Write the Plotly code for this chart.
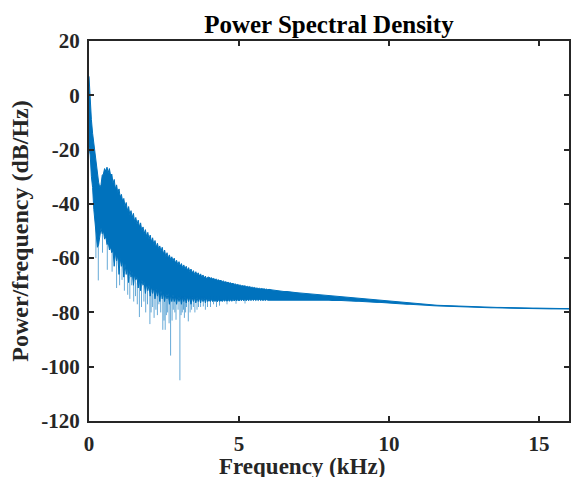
import numpy as np
import plotly.graph_objects as go

# Frequency grid (kHz): fine bins 0-5.96, coarser 6-16
freq_a = np.round(np.arange(0, 150) * 0.04, 2)
freq_b = np.round(6.0 + np.arange(0, 101) * 0.1, 2)

# Upper edge of the dense PSD band (dB/Hz)
upper_a = [
    7.0, -3.0, -9.0, -14.0, -18.0, -22.0, -26.0, -29.0, -32.0, -34.0,
    -33.0, -29.5, -29.0, -27.0, -28.0, -26.5, -28.5, -27.0, -29.5, -29.0,
    -32.5, -31.0, -34.5, -33.0, -36.0, -34.5, -37.5, -36.5, -39.0, -38.0,
    -41.0, -39.5, -42.5, -41.0, -44.0, -42.5, -45.0, -43.5, -46.5, -45.0,
    -47.5, -46.0, -48.5, -47.0, -50.0, -48.5, -51.0, -49.5, -52.0, -50.5,
    -53.0, -51.5, -54.0, -52.5, -55.0, -53.5, -56.0, -54.5, -56.5, -55.5,
    -57.5, -56.0, -58.5, -57.0, -59.5, -58.0, -60.0, -58.8, -60.5, -59.5,
    -61.0, -60.0, -61.8, -60.8, -62.5, -61.3, -63.0, -62.0, -63.5, -62.5,
    -64.0, -63.0, -64.5, -63.5, -65.0, -64.0, -65.5, -64.6, -66.0, -65.0,
    -66.2, -65.4, -66.6, -65.8, -67.0, -66.2, -67.4, -66.6, -67.7, -67.0,
    -67.0, -67.4, -67.2, -67.6, -67.5, -67.9, -67.7, -68.1, -68.0, -68.3,
    -68.2, -68.6, -68.4, -68.8, -68.7, -69.0, -68.9, -69.2, -69.1, -69.4,
    -69.3, -69.6, -69.5, -69.8, -69.7, -70.0, -69.9, -70.2, -70.1, -70.3,
    -70.2, -70.5, -70.4, -70.6, -70.5, -70.8, -70.7, -70.9, -70.8, -71.1,
    -71.0, -71.2, -71.1, -71.3, -71.2, -71.4, -71.3, -71.5, -71.4, -71.6,
]
# Lower edge of the dense PSD band (dB/Hz)
lower_a = [
    -19.0, -22.0, -30.0, -34.0, -42.0, -46.0, -52.0, -56.0, -55.0, -52.0,
    -49.0, -51.0, -50.0, -53.0, -52.0, -55.0, -54.0, -57.0, -56.0, -58.0,
    -57.0, -63.0, -58.0, -61.0, -59.0, -66.0, -60.0, -63.0, -61.0, -67.0,
    -62.0, -66.0, -63.0, -69.0, -64.0, -67.0, -65.0, -70.0, -66.0, -68.0,
    -67.0, -71.0, -67.5, -72.0, -68.0, -70.0, -69.0, -73.0, -69.5, -72.0,
    -70.0, -74.0, -70.5, -73.0, -71.0, -75.0, -71.5, -74.0, -72.0, -76.0,
    -72.0, -75.0, -72.5, -76.0, -73.0, -75.0, -73.0, -77.0, -73.5, -76.0,
    -73.5, -76.0, -74.0, -77.0, -74.0, -76.0, -74.0, -77.0, -74.2, -76.0,
    -74.2, -76.5, -74.3, -76.0, -74.3, -77.0, -74.4, -76.0, -74.5, -76.5,
    -74.5, -76.0, -74.6, -76.5, -74.6, -76.0, -74.7, -76.5, -74.7, -76.0,
    -75.2, -76.0, -75.2, -76.0, -75.3, -76.0, -75.3, -76.1, -75.3, -76.0,
    -75.3, -76.0, -75.3, -75.9, -75.3, -75.9, -75.3, -75.9, -75.3, -75.9,
    -75.2, -75.8, -75.2, -75.8, -75.2, -75.8, -75.2, -75.7, -75.2, -75.7,
    -75.2, -75.7, -75.2, -75.7, -75.2, -75.6, -75.2, -75.6, -75.2, -75.6,
    -75.2, -75.6, -75.2, -75.6, -75.3, -75.6, -75.3, -75.6, -75.3, -75.5,
]
upper_b = [
    -71.5, -71.7, -71.9, -72.0, -72.1, -72.3, -72.3, -72.5, -72.6, -72.7,
    -72.8, -72.9, -73.0, -73.1, -73.2, -73.3, -73.4, -73.5, -73.6, -73.7,
    -73.8, -73.9, -74.0, -74.1, -74.2, -74.3, -74.4, -74.5, -74.6, -74.7,
    -74.9, -75.0, -75.1, -75.3, -75.4, -75.5, -75.6, -75.7, -75.8, -75.9,
    -76.0, -76.1, -76.2, -76.3, -76.4, -76.5, -76.6, -76.7, -76.8, -76.9,
    -77.0, -77.05, -77.1, -77.2, -77.25, -77.3, -77.35, -77.4, -77.45, -77.5,
    -77.55, -77.6, -77.65, -77.7, -77.75, -77.8, -77.8, -77.85, -77.9, -77.9,
    -77.95, -78.0, -78.0, -78.05, -78.1, -78.1, -78.15, -78.15, -78.2, -78.2,
    -78.25, -78.25, -78.3, -78.3, -78.3, -78.35, -78.35, -78.4, -78.4, -78.4,
    -78.45, -78.45, -78.45, -78.5, -78.5, -78.5, -78.5, -78.55, -78.55, -78.55,
    -78.55,
]
lower_b = [
    -75.5, -75.4, -75.5, -75.3, -75.5, -75.4, -75.5, -75.3, -75.4, -75.4,
    -75.3, -75.4, -75.3, -75.4, -75.3, -75.4, -75.4, -75.5, -75.4, -75.5,
    -75.5, -75.6, -75.5, -75.6, -75.6, -75.7, -75.7, -75.8, -75.8, -75.9,
    -75.9, -76.0, -76.0, -76.1, -76.1, -76.2, -76.3, -76.3, -76.4, -76.5,
    -76.5, -76.6, -76.7, -76.8, -76.8, -76.9, -77.0, -77.0, -77.1, -77.2,
    -77.3, -77.3, -77.4, -77.45, -77.5, -77.55, -77.6, -77.65, -77.7, -77.75,
    -77.8, -77.85, -77.9, -77.9, -77.95, -78.0, -78.0, -78.05, -78.1, -78.1,
    -78.15, -78.2, -78.2, -78.25, -78.3, -78.3, -78.35, -78.35, -78.4, -78.4,
    -78.45, -78.45, -78.5, -78.5, -78.5, -78.55, -78.55, -78.6, -78.6, -78.6,
    -78.65, -78.65, -78.65, -78.7, -78.7, -78.7, -78.7, -78.75, -78.75, -78.75,
    -78.75,
]

# Deep narrow dips below the dense band: frequency, start level, lowest level
spike_freq = [0.23, 0.31, 0.45, 0.61, 0.77, 0.92, 1.02, 1.10, 1.18, 1.29,
              1.36, 1.42, 1.49, 1.55, 1.61, 1.68, 1.75, 1.83, 1.89, 1.95,
              2.03, 2.07, 2.12, 2.17, 2.23, 2.28, 2.33, 2.39, 2.46, 2.50,
              2.54, 2.58, 2.62, 2.67, 2.72, 2.77, 2.81, 2.86, 2.90, 2.97,
              3.03, 3.07, 3.11, 3.15, 3.18, 3.22, 3.25, 3.31, 3.37, 3.42,
              3.48, 3.53, 3.60, 3.65, 3.72, 3.81, 3.88, 3.95, 4.05, 4.15,
              4.25, 4.35, 4.60, 4.90, 5.20]
spike_top = [-45, -50, -50, -54, -56, -60, -64, -62, -65, -64,
             -67, -65, -68, -67, -69, -68, -70, -70, -71, -71,
             -71, -72, -72, -72, -72, -73, -73, -73, -73, -73,
             -73, -74, -74, -74, -74, -74, -74, -74, -74, -74,
             -74, -74, -74, -74, -74, -74, -74, -74, -74, -74,
             -74, -74, -74, -74, -74, -74, -74, -74, -74, -74,
             -74, -74, -74, -74, -74]
spike_bottom = [-60, -68.2, -58, -64.3, -65, -71, -70, -68, -72, -73.5,
                -75, -70, -76, -74, -77, -81.7, -78, -76, -80, -77,
                -84.3, -80, -78, -82, -79, -81, -77, -80, -86.4, -83,
                -86.4, -81, -80, -84, -95.9, -83, -79, -80, -82.7, -79,
                -105, -81, -80, -79, -82, -80, -78, -83.3, -80, -79,
                -78, -80, -79, -78, -78, -77.8, -79, -78, -78, -77,
                -78, -77.5, -77, -76.8, -76.7]

x_ticks = [0, 5, 10, 15]
y_ticks = [20, 0, -20, -40, -60, -80, -100, -120]

freq = np.concatenate([freq_a, freq_b])
upper = np.concatenate([upper_a, upper_b])
lower = np.concatenate([lower_a, lower_b])

FONT = "Liberation Serif, Times New Roman, serif"
AX = "#262626"
BLUE = "#0072BD"

fig = go.Figure()
fig.add_trace(go.Scatter(x=freq, y=upper, mode="lines",
                         line=dict(color=BLUE, width=1), showlegend=False))
fig.add_trace(go.Scatter(x=freq, y=lower, mode="lines", fill="tonexty",
                         fillcolor=BLUE, line=dict(color=BLUE, width=1),
                         showlegend=False))

sx, sy = [], []
for f, t, b in zip(spike_freq, spike_top, spike_bottom):
    sx += [f, f, None]
    sy += [t, b, None]
fig.add_trace(go.Scatter(x=sx, y=sy, mode="lines",
                         line=dict(color="rgba(0,114,189,0.6)", width=1),
                         showlegend=False))

axis_common = dict(showline=True, linecolor=AX, linewidth=2, mirror="ticks",
                   ticks="inside", ticklen=5, tickwidth=1.5, tickcolor=AX,
                   showgrid=False, zeroline=False,
                   tickfont=dict(family=FONT, size=21, color=AX))

fig.update_xaxes(range=[0, 16], tickvals=x_ticks,
                 ticktext=[f"<b>{v}</b>" for v in x_ticks],
                 ticklabelstandoff=3, **axis_common)
fig.update_yaxes(range=[-120, 20], tickvals=y_ticks,
                 ticktext=[f"<b>{v}</b>" for v in y_ticks],
                 title=dict(text="<b>Power/frequency (dB/Hz)</b>",
                            font=dict(family=FONT, size=24, color=AX), standoff=6),
                 ticklabelstandoff=3, **axis_common)

fig.update_layout(
    width=572, height=477,
    margin=dict(l=89, r=3, t=41, b=56, autoexpand=False),
    paper_bgcolor="white", plot_bgcolor="white",
    title=dict(text="<b>Power Spectral Density</b>", x=0.575, xanchor="center",
               y=1 - 24.0 / 477, yanchor="middle", yref="container",
               font=dict(family=FONT, size=25, color="black")),
    annotations=[dict(text="<b>Frequency (kHz)</b>", xref="paper", yref="paper",
                      x=0.443, y=-(452 - 421) / 380, xanchor="center", yanchor="top",
                      showarrow=False, font=dict(family=FONT, size=23, color=AX))],
)

fig.write_html("out.html")
